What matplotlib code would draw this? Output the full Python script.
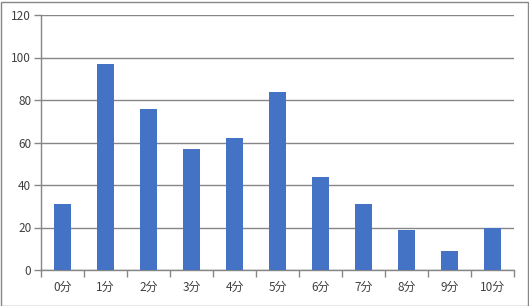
import numpy as np
import matplotlib
matplotlib.use("Agg")
import matplotlib.pyplot as plt
from matplotlib.patches import Rectangle

plt.rcParams['font.family'] = ['Noto Sans CJK JP', 'DejaVu Sans']

categories = ['0分', '1分', '2分', '3分', '4分', '5分', '6分', '7分', '8分', '9分', '10分']
counts = [31, 97, 76, 57, 62, 84, 44, 31, 19, 9, 20]
y_ticks = [0, 20, 40, 60, 80, 100, 120]

W, H = 529, 306
fig = plt.figure(figsize=(W / 100, H / 100), dpi=100)
ax = fig.add_axes([41 / W, 36 / H, 473 / W, 255 / H])

x = np.arange(len(categories))
ax.bar(x, counts, width=0.4, color='#4472C4', zorder=3)

ax.set_xlim(-0.5, len(categories) - 0.5)
ax.set_ylim(0, 120)
ax.set_yticks(y_ticks)
ax.grid(axis='y', color='#868686', linewidth=1, zorder=0)

# category labels centred, tick marks on the boundaries
ax.set_xticks(x)
ax.set_xticklabels(categories, fontsize=8.5, color='#404040')
ax.tick_params(axis='x', length=0, pad=8)
ax.set_xticks(np.arange(-0.5, len(categories)), minor=True)
ax.tick_params(axis='x', which='minor', length=5, color='#868686', width=1)
ax.tick_params(axis='y', length=5, color='#868686', width=1,
               labelsize=8.5, labelcolor='#404040', pad=2)

for side in ['top', 'right']:
    ax.spines[side].set_visible(False)
for side in ['left', 'bottom']:
    ax.spines[side].set_color('#868686')
    ax.spines[side].set_linewidth(1)

fig.patches.append(Rectangle((0.5 / W, 0.5 / H), 1 - 2 / W, 1 - 2 / H,
                             transform=fig.transFigure, fill=False,
                             edgecolor='#868686', linewidth=1))

fig.savefig('out.png', dpi=100)
